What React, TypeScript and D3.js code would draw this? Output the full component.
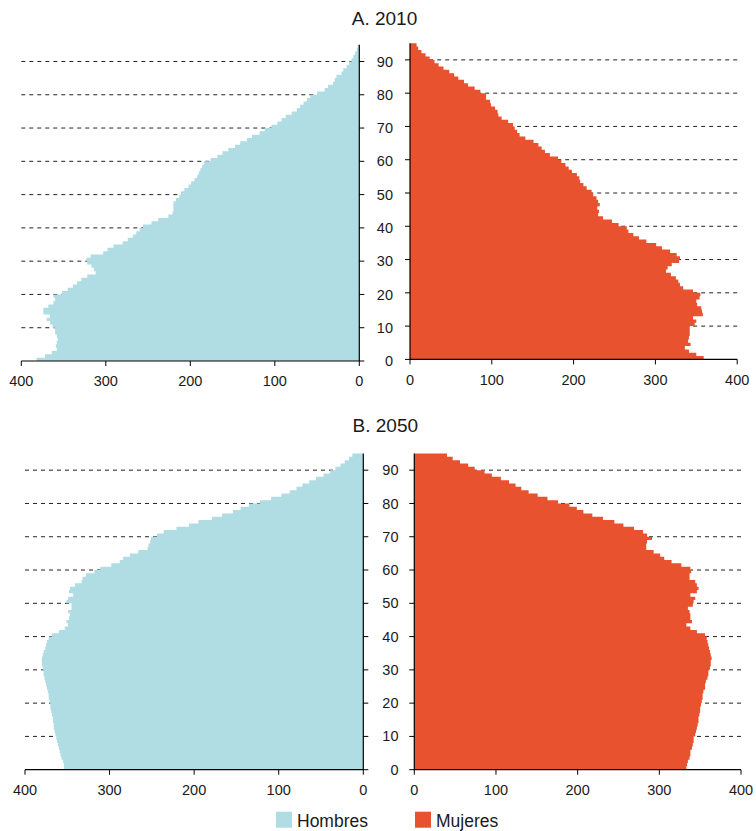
import React from "react";
import * as d3 from "d3";

const ages: number[] = d3.range(0, 95);

const hombres2010: number[] = [
  382, 372, 364, 358, 359, 358, 357, 358, 360, 360,
  363, 366, 370, 366, 374, 374, 368, 362, 360, 362,
  352, 345, 339, 334, 329, 322, 312, 314, 317, 322,
  323, 318, 303, 298, 291, 280, 274, 268, 264, 260,
  256, 246, 238, 226, 221, 220, 220, 220, 217, 213,
  211, 207, 202, 199, 195, 192, 190, 188, 186, 184,
  176, 168, 162, 155, 147, 141, 133, 127, 118, 112,
  104, 97, 92, 87, 80, 74, 70, 66, 62, 58,
  50, 41, 37, 31, 29, 27, 21, 19, 15, 12,
  9, 7, 5, 3, 2,
];

const mujeres2010: number[] = [
  359, 350, 341, 336, 343, 340, 341, 342, 342, 342,
  348, 350, 346, 358, 357, 356, 351, 350, 354, 355,
  346, 334, 330, 328, 325, 319, 313, 315, 320, 329,
  330, 326, 318, 308, 301, 289, 280, 273, 267, 265,
  255, 247, 236, 230, 231, 229, 232, 230, 228, 224,
  222, 216, 212, 208, 207, 204, 198, 194, 190, 185,
  181, 171, 165, 161, 157, 151, 141, 134, 131, 128,
  126, 120, 112, 108, 107, 104, 99, 98, 93, 93,
  86, 79, 71, 66, 59, 54, 48, 41, 35, 30,
  24, 19, 14, 10, 8,
];

const hombres2050: number[] = [
  354, 354, 355, 357, 358, 359, 360, 361, 362, 363,
  364, 365, 366, 366, 367, 367, 368, 369, 370, 370,
  371, 372, 372, 373, 374, 375, 376, 377, 378, 378,
  379, 380, 380, 380, 379, 378, 376, 375, 374, 372,
  368, 360, 353, 349, 351, 348, 347, 349, 345, 345,
  351, 349, 343, 348, 347, 341, 333, 332, 328, 318,
  311, 298, 288, 284, 276, 266, 255, 254, 252, 251,
  244, 236, 221, 206, 195, 179, 167, 154, 145, 135,
  122, 109, 97, 87, 79, 72, 64, 56, 47, 39,
  33, 27, 22, 17, 13,
];

const mujeres2050: number[] = [
  333, 334, 335, 337, 338, 338, 340, 341, 342, 342,
  344, 345, 346, 347, 348, 348, 349, 350, 350, 351,
  352, 353, 353, 354, 356, 356, 357, 359, 360, 360,
  362, 363, 363, 364, 363, 362, 361, 360, 359, 358,
  356, 346, 338, 333, 340, 338, 338, 337, 335, 341,
  342, 344, 338, 346, 348, 346, 344, 337, 337, 339,
  338, 327, 315, 306, 301, 293, 284, 284, 285, 291,
  285, 280, 269, 256, 245, 231, 218, 207, 199, 190,
  176, 163, 151, 140, 131, 124, 116, 106, 95, 86,
  74, 66, 56, 47, 40,
];

const xTicks: number[] = [0, 100, 200, 300, 400];
const yTicks: number[] = [0, 10, 20, 30, 40, 50, 60, 70, 80, 90];
const gridAges: number[] = [10, 20, 30, 40, 50, 60, 70, 80, 90];
const titles: string[] = ["A. 2010", "B. 2050"];
const legendLabels: string[] = ["Hombres", "Mujeres"];

const COLOR_M = "#b0dde4";
const COLOR_F = "#e8522f";
const FONT = "'Liberation Sans', Arial, Helvetica, sans-serif";
const TEXT = "#1a1a1a";

type PanelCfg = {
  left: { x0: number; x400: number; y0: number };
  right: { x0: number; x400: number; y0: number };
  labelRight: number;
  xLabelBaselineL: number;
  xLabelBaselineR: number;
  title: string;
  titleX: number;
  titleY: number;
  men: number[];
  women: number[];
};

const YEAR_PX = 3.328;

function Side({
  values,
  x,
  y,
  color,
  side,
  labelBaseline,
}: {
  values: number[];
  x: d3.ScaleLinear<number, number>;
  y: d3.ScaleLinear<number, number>;
  color: string;
  side: "left" | "right";
  labelBaseline: number;
}) {
  const pts: { a: number; v: number }[] = [];
  values.forEach((v, i) => {
    pts.push({ a: ages[i], v });
    pts.push({ a: ages[i] + 1, v });
  });
  const area = d3
    .area<{ a: number; v: number }>()
    .y((d) => y(d.a))
    .x0(x(0))
    .x1((d) => x(d.v));
  const axisX = x(0);
  const tickDir = side === "left" ? 1 : -1;
  const [r0, r1] = x.range();
  const gridFrom = x(400);
  return (
    <g>
      {gridAges.map((g) => (
        <line
          key={"g" + g}
          x1={gridFrom}
          x2={axisX}
          y1={y(g)}
          y2={y(g)}
          stroke="#222"
          strokeWidth={1}
          strokeDasharray="4,4"
        />
      ))}
      <path d={area(pts) || ""} fill={color} />
      {/* vertical axis */}
      <line x1={axisX} x2={axisX} y1={y(0)} y2={y(95)} stroke="#000" strokeWidth={1.2} />
      {yTicks.map((t) => (
        <line
          key={"yt" + t}
          x1={axisX}
          x2={axisX + tickDir * 5}
          y1={y(t)}
          y2={y(t)}
          stroke="#000"
          strokeWidth={1}
        />
      ))}
      {/* horizontal axis */}
      <line x1={Math.min(r0, r1)} x2={Math.max(r0, r1)} y1={y(0)} y2={y(0)} stroke="#000" strokeWidth={1.2} />
      {xTicks.map((t) => (
        <g key={"xt" + t}>
          <line x1={x(t)} x2={x(t)} y1={y(0)} y2={y(0) + 5} stroke="#000" strokeWidth={1} />
          <text
            x={x(t)}
            y={labelBaseline}
            textAnchor="middle"
            fontSize={14.5}
            fontFamily={FONT}
            fill={TEXT}
          >
            {t}
          </text>
        </g>
      ))}
    </g>
  );
}

function Pyramid({ cfg }: { cfg: PanelCfg }) {
  const xL = d3.scaleLinear().domain([0, 400]).range([cfg.left.x0, cfg.left.x400]);
  const xR = d3.scaleLinear().domain([0, 400]).range([cfg.right.x0, cfg.right.x400]);
  const yL = d3.scaleLinear().domain([0, 95]).range([cfg.left.y0, cfg.left.y0 - 95 * YEAR_PX]);
  const yR = d3.scaleLinear().domain([0, 95]).range([cfg.right.y0, cfg.right.y0 - 95 * YEAR_PX]);
  return (
    <g>
      <text
        x={cfg.titleX}
        y={cfg.titleY}
        textAnchor="middle"
        fontSize={19}
        fontFamily={FONT}
        fill={TEXT}
      >
        {cfg.title}
      </text>
      <Side values={cfg.men} x={xL} y={yL} color={COLOR_M} side="left" labelBaseline={cfg.xLabelBaselineL} />
      <Side values={cfg.women} x={xR} y={yR} color={COLOR_F} side="right" labelBaseline={cfg.xLabelBaselineR} />
      {yTicks.map((t) => (
        <text
          key={"yl" + t}
          x={cfg.labelRight}
          y={yL(t) + 14.5 * 0.35}
          textAnchor="end"
          fontSize={14.5}
          fontFamily={FONT}
          fill={TEXT}
        >
          {t}
        </text>
      ))}
    </g>
  );
}

const panels: PanelCfg[] = [
  {
    left: { x0: 359.3, x400: 21.3, y0: 361 },
    right: { x0: 410, x400: 737.2, y0: 359.4 },
    labelRight: 393,
    xLabelBaselineL: 386,
    xLabelBaselineR: 384.5,
    title: titles[0],
    titleX: 384.5,
    titleY: 25,
    men: hombres2010,
    women: mujeres2010,
  },
  {
    left: { x0: 363.3, x400: 25, y0: 769.7 },
    right: { x0: 414.3, x400: 741, y0: 769.7 },
    labelRight: 398.5,
    xLabelBaselineL: 794.5,
    xLabelBaselineR: 794.5,
    title: titles[1],
    titleX: 385.3,
    titleY: 432,
    men: hombres2050,
    women: mujeres2050,
  },
];

export default function App() {
  return (
    <svg
      width={756}
      height={831}
      style={{ position: "absolute", left: 0, top: 0, display: "block", background: "#fff" }}
    >
      <rect x={0} y={0} width={756} height={831} fill="#fff" />
      {panels.map((p, i) => (
        <Pyramid key={i} cfg={p} />
      ))}
      <g>
        <rect x={276} y={811.7} width={16} height={16} fill={COLOR_M} />
        <text x={297} y={827} fontSize={17.5} fontFamily={FONT} fill={TEXT}>
          {legendLabels[0]}
        </text>
        <rect x={415} y={811.7} width={16} height={16} fill={COLOR_F} />
        <text x={436} y={827} fontSize={17.5} fontFamily={FONT} fill={TEXT}>
          {legendLabels[1]}
        </text>
      </g>
    </svg>
  );
}
